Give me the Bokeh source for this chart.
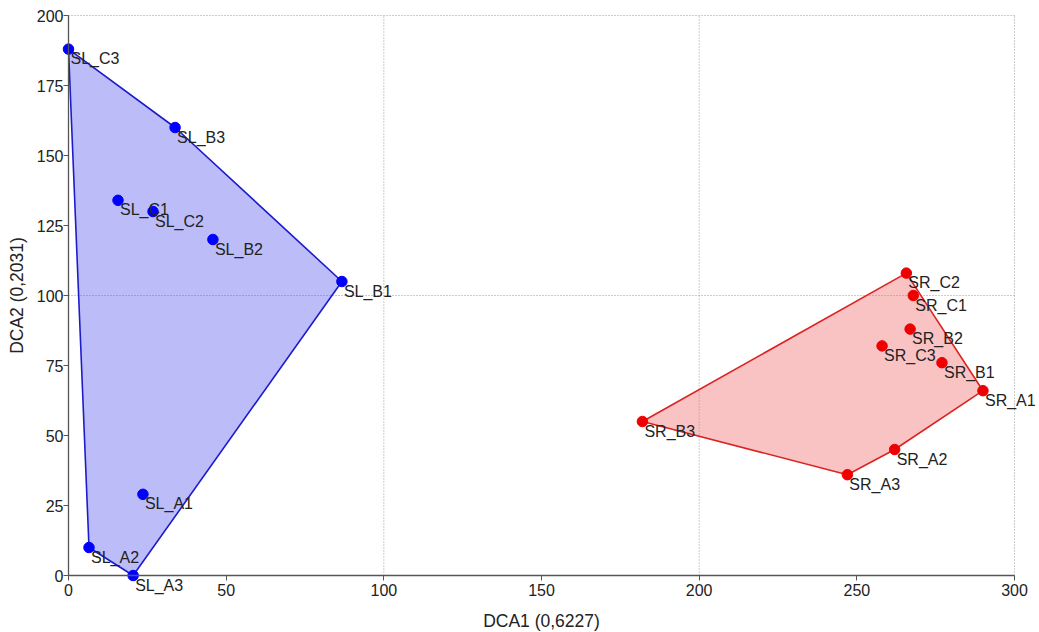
from bokeh.plotting import figure
from bokeh.models import ColumnDataSource, FixedTicker, LinearAxis
from bokeh.embed import file_html
from bokeh.resources import INLINE
from bokeh.core.properties import value

# --- data ---
sl_labels = ["SL_C3", "SL_B3", "SL_C1", "SL_C2", "SL_B2", "SL_B1", "SL_A1", "SL_A2", "SL_A3"]
sl_x = [0.0, 33.8, 15.7, 26.8, 45.8, 86.7, 23.6, 6.5, 20.5]
sl_y = [188.0, 160.0, 134.0, 130.0, 120.0, 105.0, 29.0, 10.0, 0.0]

sr_labels = ["SR_C2", "SR_C1", "SR_B2", "SR_C3", "SR_B1", "SR_A1", "SR_A2", "SR_A3", "SR_B3"]
sr_x = [265.7, 267.9, 266.9, 258.0, 277.0, 290.0, 262.0, 247.0, 182.0]
sr_y = [108.0, 100.0, 88.0, 82.0, 76.0, 66.0, 45.0, 36.0, 55.0]

x_ticks = [0, 50, 100, 150, 200, 250, 300]
y_ticks = [0, 25, 50, 75, 100, 125, 150, 175, 200]
grid_x = [100, 200, 300]
grid_y = [100, 200]
x_lim = (0, 300)
y_lim = (0, 200)


def hull(xs, ys):
    pts = sorted(set(zip(xs, ys)))
    def cross(o, a, b):
        return (a[0]-o[0])*(b[1]-o[1]) - (a[1]-o[1])*(b[0]-o[0])
    lower, upper = [], []
    for p in pts:
        while len(lower) >= 2 and cross(lower[-2], lower[-1], p) <= 0:
            lower.pop()
        lower.append(p)
    for p in reversed(pts):
        while len(upper) >= 2 and cross(upper[-2], upper[-1], p) <= 0:
            upper.pop()
        upper.append(p)
    h = lower[:-1] + upper[:-1]
    return [p[0] for p in h], [p[1] for p in h]


FONT = "Liberation Sans"
W, H = 1039, 632
LEFT, TOP = 68, 15                 # pixel position of the axis box corner
AXIS_W, AXIS_H = 946, 560          # pixel extent of the 0..300 / 0..200 axes
sx = (x_lim[1] - x_lim[0]) / AXIS_W
sy = (y_lim[1] - y_lim[0]) / AXIS_H
x_start = x_lim[0] - LEFT * sx
x_end = x_lim[0] + (W - LEFT) * sx
y_end = y_lim[1] + TOP * sy
y_start = y_lim[1] - (H - TOP) * sy

p = figure(width=W, height=H, x_range=(x_start, x_end), y_range=(y_start, y_end),
           output_backend="svg", toolbar_location=None,
           x_axis_location=None, y_axis_location=None,
           min_border_left=0, min_border_right=0, min_border_top=0, min_border_bottom=0)
p.outline_line_color = None
p.background_fill_color = "white"
p.xgrid.visible = False
p.ygrid.visible = False

# dotted grid lines restricted to the axis box
p.segment(x0=grid_x, y0=[y_lim[0]] * len(grid_x), x1=grid_x, y1=[y_lim[1]] * len(grid_x),
          line_color="#999999", line_dash="1 2", line_width=1)
p.segment(x0=[x_lim[0]] * len(grid_y), y0=grid_y, x1=[x_lim[1]] * len(grid_y), y1=grid_y,
          line_color="#999999", line_dash="1 2", line_width=1)

groups = [
    (sl_labels, sl_x, sl_y, "#1c1ccc", "#0000ff", "#5050f0"),
    (sr_labels, sr_x, sr_y, "#dd2222", "#ee0000", "#f06060"),
]
for labels, xs, ys, line_c, pt_c, fill_c in groups:
    hx, hy = hull(xs, ys)
    p.patch(hx, hy, fill_color=fill_c, fill_alpha=0.38, line_color=line_c, line_width=1.6)
    src = ColumnDataSource(dict(x=xs, y=ys, label=labels))
    p.scatter("x", "y", source=src, size=10.5, color=pt_c)
    p.text("x", "y", text="label", source=src, x_offset=2, y_offset=1,
           text_font=value(FONT), text_font_size="16px", text_color="#222222",
           text_align="left", text_baseline="top")

xaxis = LinearAxis(fixed_location=0, bounds=x_lim, ticker=FixedTicker(ticks=x_ticks),
                   axis_label="DCA1 (0,6227)", major_label_standoff=3, axis_label_standoff=12)
yaxis = LinearAxis(fixed_location=0, bounds=y_lim, ticker=FixedTicker(ticks=y_ticks),
                   axis_label="DCA2 (0,2031)", major_label_standoff=0, axis_label_standoff=7)
for ax in (xaxis, yaxis):
    ax.axis_line_color = "#555555"
    ax.axis_line_width = 1.3
    ax.major_tick_line_color = "#555555"
    ax.major_tick_out = 5
    ax.major_tick_in = 0
    ax.minor_tick_line_color = None
    ax.major_label_text_font = FONT
    ax.major_label_text_font_size = "16px"
    ax.major_label_text_color = "#222222"
    ax.axis_label_text_font = FONT
    ax.axis_label_text_font_size = "17.5px"
    ax.axis_label_text_font_style = "normal"
    ax.axis_label_text_color = "#222222"
p.add_layout(xaxis, "below")
p.add_layout(yaxis, "left")

open("out.html", "w").write(file_html(p, INLINE))
